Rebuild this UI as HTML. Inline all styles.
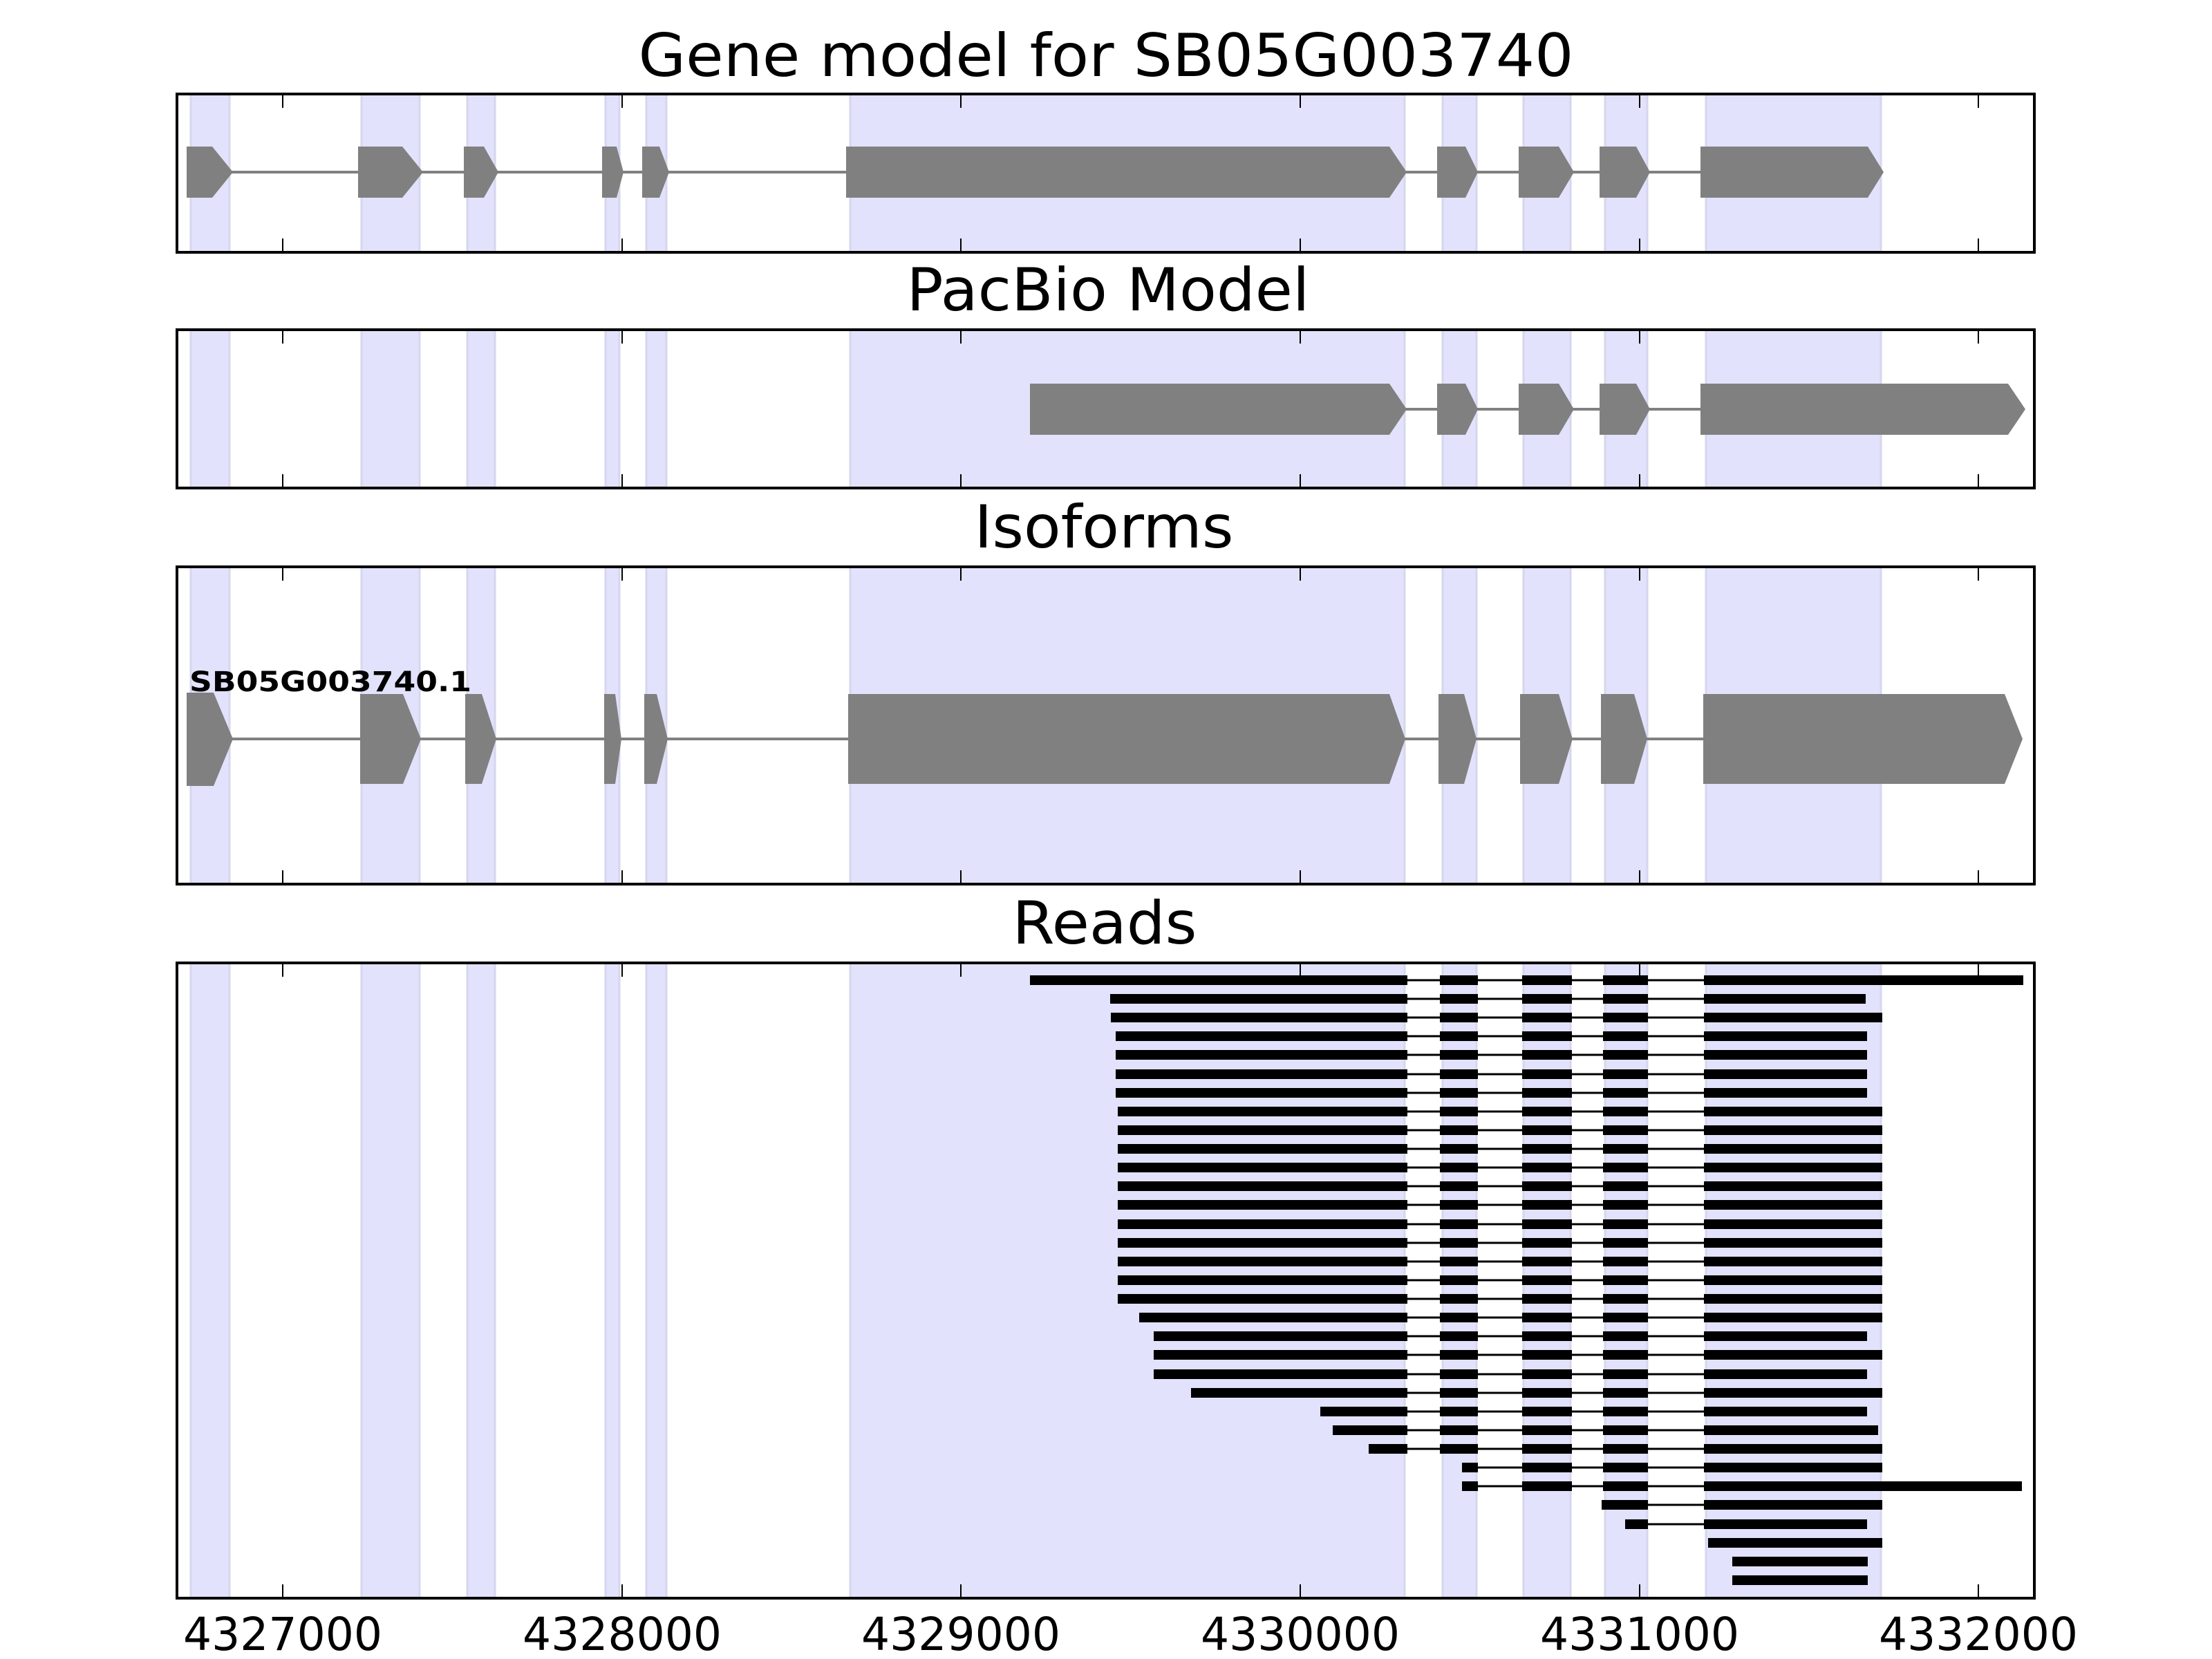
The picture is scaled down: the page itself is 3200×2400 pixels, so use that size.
<!DOCTYPE html>
<html><head><meta charset="utf-8"><style>html,body{margin:0;padding:0;background:#fff}svg{display:block}</style></head>
<body>
<svg width="3200" height="2400" viewBox="0 0 3200 2400" xmlns="http://www.w3.org/2000/svg" font-family="'DejaVu Sans','Liberation Sans',sans-serif">
<defs>
<g id="bcd" fill="#000"><rect x="2083" y="-7" width="55" height="14"/><rect x="2202" y="-7" width="72" height="14"/><rect x="2319" y="-7" width="65" height="14"/></g>
</defs>

<g fill="#000" font-size="86" text-anchor="middle">
<text x="1600" y="110" textLength="1353" lengthAdjust="spacingAndGlyphs">Gene model for SB05G003740</text>
<text x="1603" y="449" textLength="583" lengthAdjust="spacingAndGlyphs">PacBio Model</text>
<text x="1597" y="792" textLength="375" lengthAdjust="spacingAndGlyphs">Isoforms</text>
<text x="1598" y="1365" textLength="267" lengthAdjust="spacingAndGlyphs">Reads</text>
</g>

<svg x="0" y="136" width="3200" height="229"><g fill="#e2e2fc" stroke="#d6d6ee" stroke-width="3"><rect x="276" y="0" width="56" height="229"/><rect x="523" y="0" width="84" height="229"/><rect x="676" y="0" width="40" height="229"/><rect x="876" y="0" width="20" height="229"/><rect x="935" y="0" width="29" height="229"/><rect x="1230" y="0" width="802" height="229"/><rect x="2087" y="0" width="49" height="229"/><rect x="2204" y="0" width="68" height="229"/><rect x="2322" y="0" width="61" height="229"/><rect x="2468" y="0" width="253" height="229"/></g></svg>
<svg x="0" y="477" width="3200" height="229"><g fill="#e2e2fc" stroke="#d6d6ee" stroke-width="3"><rect x="276" y="0" width="56" height="229"/><rect x="523" y="0" width="84" height="229"/><rect x="676" y="0" width="40" height="229"/><rect x="876" y="0" width="20" height="229"/><rect x="935" y="0" width="29" height="229"/><rect x="1230" y="0" width="802" height="229"/><rect x="2087" y="0" width="49" height="229"/><rect x="2204" y="0" width="68" height="229"/><rect x="2322" y="0" width="61" height="229"/><rect x="2468" y="0" width="253" height="229"/></g></svg>
<svg x="0" y="820" width="3200" height="459"><g fill="#e2e2fc" stroke="#d6d6ee" stroke-width="3"><rect x="276" y="0" width="56" height="459"/><rect x="523" y="0" width="84" height="459"/><rect x="676" y="0" width="40" height="459"/><rect x="876" y="0" width="20" height="459"/><rect x="935" y="0" width="29" height="459"/><rect x="1230" y="0" width="802" height="459"/><rect x="2087" y="0" width="49" height="459"/><rect x="2204" y="0" width="68" height="459"/><rect x="2322" y="0" width="61" height="459"/><rect x="2468" y="0" width="253" height="459"/></g></svg>
<svg x="0" y="1393" width="3200" height="919"><g fill="#e2e2fc" stroke="#d6d6ee" stroke-width="3"><rect x="276" y="0" width="56" height="919"/><rect x="523" y="0" width="84" height="919"/><rect x="676" y="0" width="40" height="919"/><rect x="876" y="0" width="20" height="919"/><rect x="935" y="0" width="29" height="919"/><rect x="1230" y="0" width="802" height="919"/><rect x="2087" y="0" width="49" height="919"/><rect x="2204" y="0" width="68" height="919"/><rect x="2322" y="0" width="61" height="919"/><rect x="2468" y="0" width="253" height="919"/></g></svg>

<g fill="#808080">
<rect x="270" y="247" width="1750" height="4"/>
<rect x="2030" y="247" width="440" height="4"/>
<polygon points="270,212 307,212 337,249 307,286 270,286"/>
<polygon points="518,212 582,212 612,249 582,286 518,286"/>
<polygon points="671,212 700,212 721,249 700,286 671,286"/>
<polygon points="871,212 892,212 902,249 892,286 871,286"/>
<polygon points="929,212 954,212 968,249 954,286 929,286"/>
<polygon points="1224,212 2010,212 2035,249 2010,286 1224,286"/>
<polygon points="2079,212 2120,212 2138,249 2120,286 2079,286"/>
<polygon points="2197,212 2255,212 2277,249 2255,286 2197,286"/>
<polygon points="2314,212 2367,212 2387,249 2367,286 2314,286"/>
<polygon points="2460,212 2702,212 2725,249 2702,286 2460,286"/>
</g>
<g fill="#808080">
<rect x="1490" y="590" width="980" height="4"/>
<polygon points="1490,555 2010,555 2035,592 2010,629 1490,629"/>
<polygon points="2079,555 2120,555 2138,592 2120,629 2079,629"/>
<polygon points="2197,555 2255,555 2277,592 2255,629 2197,629"/>
<polygon points="2314,555 2367,555 2387,592 2367,629 2314,629"/>
<polygon points="2460,555 2905,555 2930,592 2905,629 2460,629"/>
</g>
<g fill="#808080">
<rect x="270" y="1067" width="2200" height="4"/>
<polygon points="270,1002 309,1002 337,1069 309,1137 270,1137"/>
<polygon points="521,1004 583,1004 609,1069 583,1134 521,1134"/>
<polygon points="673,1004 697,1004 718,1069 697,1134 673,1134"/>
<polygon points="874,1004 890,1004 899,1069 890,1134 874,1134"/>
<polygon points="932,1004 950,1004 966,1069 950,1134 932,1134"/>
<polygon points="1227,1004 2010,1004 2033,1069 2010,1134 1227,1134"/>
<polygon points="2081,1004 2118,1004 2136,1069 2118,1134 2081,1134"/>
<polygon points="2199,1004 2255,1004 2275,1069 2255,1134 2199,1134"/>
<polygon points="2316,1004 2364,1004 2383,1069 2364,1134 2316,1134"/>
<polygon points="2464,1004 2900,1004 2926,1069 2900,1134 2464,1134"/>
</g>
<text x="274" y="1000" font-size="40" font-weight="bold" fill="#000" textLength="408" lengthAdjust="spacingAndGlyphs">SB05G003740.1</text>

<g stroke="#000" stroke-width="3">
<line x1="1490" x2="2927" y1="1418" y2="1418"/><line x1="1606" x2="2699" y1="1445" y2="1445"/><line x1="1607" x2="2723" y1="1472" y2="1472"/>
<line x1="1614" x2="2701" y1="1499" y2="1499"/><line x1="1614" x2="2701" y1="1526" y2="1526"/><line x1="1614" x2="2701" y1="1554" y2="1554"/><line x1="1614" x2="2701" y1="1581" y2="1581"/>
<line x1="1617" x2="2723" y1="1608" y2="1608"/><line x1="1617" x2="2723" y1="1635" y2="1635"/><line x1="1617" x2="2723" y1="1662" y2="1662"/><line x1="1617" x2="2723" y1="1689" y2="1689"/><line x1="1617" x2="2723" y1="1716" y2="1716"/><line x1="1617" x2="2723" y1="1743" y2="1743"/><line x1="1617" x2="2723" y1="1771" y2="1771"/><line x1="1617" x2="2723" y1="1798" y2="1798"/><line x1="1617" x2="2723" y1="1825" y2="1825"/><line x1="1617" x2="2723" y1="1852" y2="1852"/><line x1="1617" x2="2723" y1="1879" y2="1879"/>
<line x1="1648" x2="2723" y1="1906" y2="1906"/><line x1="1669" x2="2701" y1="1933" y2="1933"/><line x1="1669" x2="2723" y1="1960" y2="1960"/><line x1="1669" x2="2701" y1="1988" y2="1988"/><line x1="1723" x2="2723" y1="2015" y2="2015"/><line x1="1910" x2="2701" y1="2042" y2="2042"/><line x1="1928" x2="2717" y1="2069" y2="2069"/><line x1="1980" x2="2723" y1="2096" y2="2096"/>
<line x1="2115" x2="2723" y1="2123" y2="2123"/><line x1="2115" x2="2925" y1="2150" y2="2150"/><line x1="2317" x2="2723" y1="2177" y2="2177"/><line x1="2351" x2="2701" y1="2205" y2="2205"/>
</g>
<g fill="#000">
<rect x="1490" y="1411" width="546" height="14"/><rect x="1606" y="1438" width="430" height="14"/><rect x="1607" y="1465" width="429" height="14"/>
<rect x="1614" y="1492" width="422" height="14"/><rect x="1614" y="1519" width="422" height="14"/><rect x="1614" y="1547" width="422" height="14"/><rect x="1614" y="1574" width="422" height="14"/>
<rect x="1617" y="1601" width="419" height="14"/><rect x="1617" y="1628" width="419" height="14"/><rect x="1617" y="1655" width="419" height="14"/><rect x="1617" y="1682" width="419" height="14"/><rect x="1617" y="1709" width="419" height="14"/><rect x="1617" y="1736" width="419" height="14"/><rect x="1617" y="1764" width="419" height="14"/><rect x="1617" y="1791" width="419" height="14"/><rect x="1617" y="1818" width="419" height="14"/><rect x="1617" y="1845" width="419" height="14"/><rect x="1617" y="1872" width="419" height="14"/>
<rect x="1648" y="1899" width="388" height="14"/><rect x="1669" y="1926" width="367" height="14"/><rect x="1669" y="1953" width="367" height="14"/><rect x="1669" y="1981" width="367" height="14"/><rect x="1723" y="2008" width="313" height="14"/><rect x="1910" y="2035" width="126" height="14"/><rect x="1928" y="2062" width="108" height="14"/><rect x="1980" y="2089" width="56" height="14"/>
<rect x="2465" y="1411" width="462" height="14"/><rect x="2465" y="1438" width="234" height="14"/><rect x="2465" y="1465" width="258" height="14"/>
<rect x="2465" y="1492" width="236" height="14"/><rect x="2465" y="1519" width="236" height="14"/><rect x="2465" y="1547" width="236" height="14"/><rect x="2465" y="1574" width="236" height="14"/>
<rect x="2465" y="1601" width="258" height="14"/><rect x="2465" y="1628" width="258" height="14"/><rect x="2465" y="1655" width="258" height="14"/><rect x="2465" y="1682" width="258" height="14"/><rect x="2465" y="1709" width="258" height="14"/><rect x="2465" y="1736" width="258" height="14"/><rect x="2465" y="1764" width="258" height="14"/><rect x="2465" y="1791" width="258" height="14"/><rect x="2465" y="1818" width="258" height="14"/><rect x="2465" y="1845" width="258" height="14"/><rect x="2465" y="1872" width="258" height="14"/>
<rect x="2465" y="1899" width="258" height="14"/><rect x="2465" y="1926" width="236" height="14"/><rect x="2465" y="1953" width="258" height="14"/><rect x="2465" y="1981" width="236" height="14"/><rect x="2465" y="2008" width="258" height="14"/><rect x="2465" y="2035" width="236" height="14"/><rect x="2465" y="2062" width="252" height="14"/><rect x="2465" y="2089" width="258" height="14"/>
<rect x="2465" y="2116" width="258" height="14"/><rect x="2465" y="2143" width="460" height="14"/><rect x="2465" y="2170" width="258" height="14"/><rect x="2465" y="2198" width="236" height="14"/>
<rect x="2471" y="2225" width="252" height="14"/><rect x="2506" y="2252" width="196" height="14"/><rect x="2506" y="2279" width="196" height="14"/>
<rect x="2115" y="2116" width="23" height="14"/><rect x="2202" y="2116" width="72" height="14"/><rect x="2319" y="2116" width="65" height="14"/>
<rect x="2115" y="2143" width="23" height="14"/><rect x="2202" y="2143" width="72" height="14"/><rect x="2319" y="2143" width="65" height="14"/>
<rect x="2317" y="2170" width="67" height="14"/><rect x="2351" y="2198" width="33" height="14"/>
</g>
<use href="#bcd" y="1418"/><use href="#bcd" y="1445"/><use href="#bcd" y="1472"/><use href="#bcd" y="1499"/><use href="#bcd" y="1526"/><use href="#bcd" y="1554"/><use href="#bcd" y="1581"/><use href="#bcd" y="1608"/><use href="#bcd" y="1635"/><use href="#bcd" y="1662"/><use href="#bcd" y="1689"/><use href="#bcd" y="1716"/><use href="#bcd" y="1743"/><use href="#bcd" y="1771"/><use href="#bcd" y="1798"/><use href="#bcd" y="1825"/><use href="#bcd" y="1852"/><use href="#bcd" y="1879"/><use href="#bcd" y="1906"/><use href="#bcd" y="1933"/><use href="#bcd" y="1960"/><use href="#bcd" y="1988"/><use href="#bcd" y="2015"/><use href="#bcd" y="2042"/><use href="#bcd" y="2069"/><use href="#bcd" y="2096"/>

<g fill="none" stroke="#000" stroke-width="4">
<rect x="256" y="136" width="2687" height="229"/>
<rect x="256" y="477" width="2687" height="229"/>
<rect x="256" y="820" width="2687" height="459"/>
<rect x="256" y="1393" width="2687" height="919"/>
</g>
<g stroke="#000" stroke-width="2">
<path d="M409 136v20M900 136v20M1390 136v20M1881 136v20M2372 136v20M2862 136v20M409 365v-20M900 365v-20M1390 365v-20M1881 365v-20M2372 365v-20M2862 365v-20"/>
<path d="M409 477v20M900 477v20M1390 477v20M1881 477v20M2372 477v20M2862 477v20M409 706v-20M900 706v-20M1390 706v-20M1881 706v-20M2372 706v-20M2862 706v-20"/>
<path d="M409 820v20M900 820v20M1390 820v20M1881 820v20M2372 820v20M2862 820v20M409 1279v-20M900 1279v-20M1390 1279v-20M1881 1279v-20M2372 1279v-20M2862 1279v-20"/>
<path d="M409 1393v20M900 1393v20M1390 1393v20M1881 1393v20M2372 1393v20M2862 1393v20M409 2312v-20M900 2312v-20M1390 2312v-20M1881 2312v-20M2372 2312v-20M2862 2312v-20"/>
</g>
<g fill="#000" font-size="66" text-anchor="middle">
<text x="409" y="2387" textLength="288" lengthAdjust="spacingAndGlyphs">4327000</text>
<text x="900" y="2387" textLength="288" lengthAdjust="spacingAndGlyphs">4328000</text>
<text x="1390" y="2387" textLength="288" lengthAdjust="spacingAndGlyphs">4329000</text>
<text x="1881" y="2387" textLength="288" lengthAdjust="spacingAndGlyphs">4330000</text>
<text x="2372" y="2387" textLength="288" lengthAdjust="spacingAndGlyphs">4331000</text>
<text x="2862" y="2387" textLength="288" lengthAdjust="spacingAndGlyphs">4332000</text>
</g>
</svg>
</body></html>
